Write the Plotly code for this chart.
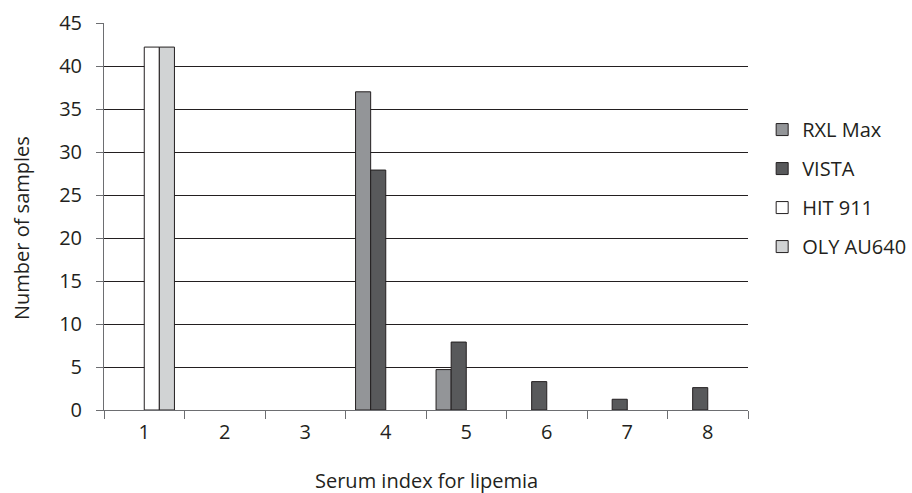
import plotly.graph_objects as go

categories = ["1", "2", "3", "4", "5", "6", "7", "8"]
rxl_max = [None, None, None, 37, 4.7, None, None, None]
vista = [None, None, None, 27.9, 7.9, 3.3, 1.25, 2.6]
hit_911 = [42.2, None, None, None, None, None, None, None]
oly_au640 = [42.2, None, None, None, None, None, None, None]
y_ticks = [0, 5, 10, 15, 20, 25, 30, 35, 40, 45]

series = [
    ("RXL Max", rxl_max, "#939598"),
    ("VISTA", vista, "#58595b"),
    ("HIT 911", hit_911, "#ffffff"),
    ("OLY AU640", oly_au640, "#d1d3d4"),
]

fig = go.Figure()
for name, vals, color in series:
    fig.add_trace(go.Bar(
        x=categories, y=vals, name=name, legendgroup=name,
        marker=dict(color=color, line=dict(color="#231f20", width=1)),
    ))

font_family = "Open Sans, Noto Sans, sans-serif"
text_color = "#231f20"
fig.update_layout(
    width=912, height=493,
    margin=dict(l=104, r=164, t=23, b=83, autoexpand=False),
    plot_bgcolor="white", paper_bgcolor="white",
    barmode="group", bargap=0.25, bargroupgap=0,
    font=dict(family=font_family, size=20, color=text_color),
    showlegend=True,
    legend=dict(x=1.022, y=0.775, xanchor="left", yanchor="top",
                traceorder="grouped", tracegroupgap=10,
                font=dict(size=20), bgcolor="rgba(0,0,0,0)"),
    xaxis=dict(
        type="category", tickson="boundaries", ticks="outside", ticklen=8,
        tickcolor="#6d6e71", showline=True, linecolor="#6d6e71", linewidth=1,
        showgrid=False, automargin=False, tickfont=dict(size=20),
        ticklabelstandoff=4,
    ),
    yaxis=dict(
        range=[0, 45], tickvals=y_ticks, ticks="outside", ticklen=7,
        tickcolor="#6d6e71", showline=True, linecolor="#6d6e71", linewidth=1,
        showgrid=True, gridcolor="#231f20", gridwidth=1,
        zeroline=False, automargin=False, tickfont=dict(size=20),
        ticklabelstandoff=10,
    ),
    annotations=[
        dict(text="Serum index for lipemia", xref="paper", yref="paper",
             x=0.5, y=-0.181, xanchor="center", yanchor="middle",
             showarrow=False, font=dict(size=20)),
        dict(text="Number of samples", xref="paper", yref="paper",
             x=-0.129, y=0.47, xanchor="center", yanchor="middle",
             textangle=-90, showarrow=False, font=dict(size=20)),
    ],
)

fig.write_html(
    "out.html",
    config={"displayModeBar": False},
    post_script="document.body.style.margin='0';document.body.style.overflow='hidden';",
)
